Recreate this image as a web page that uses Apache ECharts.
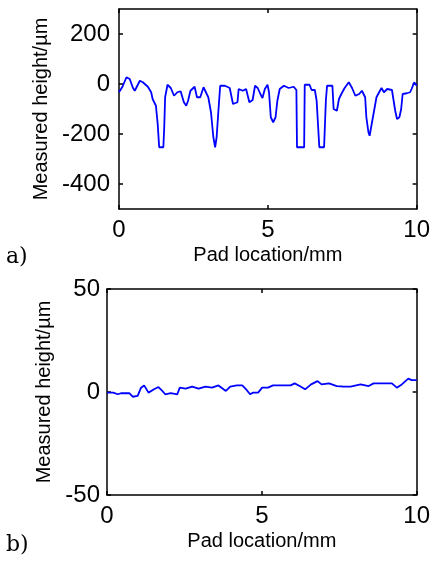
<!DOCTYPE html>
<html>
<head>
<meta charset="utf-8">
<script src="https://cdn.jsdelivr.net/npm/echarts@6/dist/echarts.min.js"></script>
<style>
html,body{margin:0;padding:0;background:#fff;}
#chart{width:433px;height:563px;}
</style>
</head>
<body>
<div id="chart"></div>
<script>
// Panel a) measured height profile
const xA = [0, 0.12, 0.25, 0.36, 0.47, 0.53, 0.7, 0.8, 0.97, 1.08, 1.13, 1.24, 1.3, 1.35, 1.49, 1.52, 1.55, 1.63, 1.74, 1.8, 1.85, 1.96, 2.07, 2.18, 2.26, 2.32, 2.4, 2.54, 2.62, 2.73, 2.84, 2.9, 3.0, 3.09, 3.17, 3.23, 3.28, 3.34, 3.4, 3.56, 3.72, 3.83, 3.98, 4.02, 4.16, 4.27, 4.38, 4.49, 4.57, 4.66, 4.75, 4.82, 4.9, 4.99, 5.04, 5.1, 5.18, 5.26, 5.32, 5.4, 5.54, 5.7, 5.87, 5.96, 5.98, 6.22, 6.24, 6.4, 6.47, 6.58, 6.64, 6.73, 6.89, 6.95, 6.99, 7.17, 7.21, 7.32, 7.39, 7.47, 7.58, 7.72, 7.83, 7.94, 8.07, 8.16, 8.27, 8.31, 8.38, 8.42, 8.49, 8.57, 8.65, 8.74, 8.82, 8.9, 9.01, 9.17, 9.28, 9.34, 9.42, 9.48, 9.53, 9.67, 9.78, 9.83, 9.92, 10.0];
const yA = [-33, -10, 27, 20, -16, -27, 13, 7, -11, -33, -60, -87, -160, -253, -253, -173, -53, -3, -16, -24, -47, -33, -29, -73, -87, -67, -27, -11, -53, -53, -13, -11, -53, -113, -213, -253, -213, -107, -7, -7, -16, -80, -73, -20, -27, -20, -73, -64, -7, -16, -40, -56, -20, -3, -33, -133, -153, -133, -67, -20, -7, -16, -11, -24, -253, -253, -3, -3, -24, -24, -67, -253, -253, -67, -7, -7, -100, -107, -60, -40, -16, 7, -16, -47, -40, -27, -53, -133, -193, -207, -160, -107, -53, -33, -16, -33, -20, -24, -107, -140, -133, -100, -40, -37, -33, -20, 7, -7];

// Panel b) measured height profile
const xB = [0, 0.2, 0.35, 0.45, 0.72, 0.83, 0.99, 1.1, 1.2, 1.34, 1.52, 1.66, 1.77, 1.88, 2.06, 2.27, 2.35, 2.54, 2.75, 2.96, 3.18, 3.39, 3.6, 3.84, 3.98, 4.19, 4.37, 4.51, 4.62, 4.72, 4.88, 5.01, 5.2, 5.36, 5.93, 6.06, 6.22, 6.4, 6.59, 6.8, 6.93, 7.17, 7.42, 7.65, 7.87, 8.19, 8.45, 8.61, 9.2, 9.36, 9.52, 9.73, 9.84, 10.0];
const yB = [-0.3, -0.3, -1.1, -0.6, -0.6, -2.3, -1.9, 2.1, 3.2, -0.3, 1.3, 2.4, 0.8, -1.1, -0.6, -1.1, 2.1, 1.6, 2.6, 1.6, 2.6, 2.1, 3.2, 0.5, 2.6, 3.2, 3.2, 1.0, -1.1, -0.3, -0.3, 2.1, 2.1, 3.2, 3.2, 4.2, 2.9, 1.3, 3.7, 5.3, 3.7, 4.2, 2.9, 2.6, 2.6, 3.7, 2.9, 4.2, 4.2, 2.1, 3.7, 6.5, 5.8, 5.8];

const xTicks = [0, 5, 10];
const yTicksA = [-400, -200, 0, 200];
const yTicksB = [-50, 0, 50];
const xTitle = 'Pad location/mm';
const yTitle = 'Measured height/µm';
const panelLabels = ['a)', 'b)'];

const FONT = 'Liberation Sans, Arial, sans-serif';
const frame = {show: true, onZero: false, lineStyle: {color: '#000', width: 1.5}};
function tickIn(vals) {
  return {show: true, inside: true, length: 4, customValues: vals, lineStyle: {color: '#000', width: 1.5}};
}

function xMain(grid, margin) {
  return {type: 'value', gridIndex: grid, min: 0, max: 10, position: 'bottom',
    axisLine: frame, axisTick: tickIn(xTicks), splitLine: {show: false},
    axisLabel: {color: '#000', fontSize: 24, fontFamily: FONT, margin: margin, customValues: xTicks},
    name: xTitle, nameLocation: 'middle', nameGap: 36,
    nameTextStyle: {color: '#000', fontSize: 20, fontFamily: FONT}};
}
function xTop(grid) {
  return {type: 'value', gridIndex: grid, min: 0, max: 10, position: 'top',
    axisLine: frame, axisTick: tickIn(xTicks), axisLabel: {show: false}, splitLine: {show: false}};
}
function yMain(grid, min, max, ticks, margin, gap) {
  return {type: 'value', gridIndex: grid, min: min, max: max, position: 'left',
    axisLine: frame, axisTick: tickIn(ticks), splitLine: {show: false},
    axisLabel: {color: '#000', fontSize: 24, fontFamily: FONT, margin: margin, customValues: ticks},
    name: yTitle, nameLocation: 'middle', nameGap: gap,
    nameTextStyle: {color: '#000', fontSize: 20, fontFamily: FONT}};
}
function yRight(grid, min, max, ticks) {
  return {type: 'value', gridIndex: grid, min: min, max: max, position: 'right',
    axisLine: frame, axisTick: tickIn(ticks), axisLabel: {show: false}, splitLine: {show: false}};
}

const chart = echarts.init(document.getElementById('chart'), null, {renderer: 'canvas'});
chart.setOption({
  backgroundColor: '#fff',
  animation: false,
  grid: [
    {left: 119, top: 9, width: 303, height: 200},
    {left: 107, top: 289, width: 313, height: 206}
  ],
  xAxis: [xMain(0, 9), xTop(0), xMain(1, 9), xTop(1)],
  yAxis: [
    yMain(0, -500, 300, yTicksA, 9, 66), yRight(0, -500, 300, yTicksA),
    yMain(1, -50, 50, yTicksB, 7, 51), yRight(1, -50, 50, yTicksB)
  ],
  series: [
    {type: 'line', xAxisIndex: 0, yAxisIndex: 0, data: xA.map((x, i) => [x, yA[i]]),
      showSymbol: false, lineStyle: {color: '#0000ff', width: 1.8}},
    {type: 'line', xAxisIndex: 2, yAxisIndex: 2, data: xB.map((x, i) => [x, yB[i]]),
      showSymbol: false, lineStyle: {color: '#0000ff', width: 1.8}}
  ],
  graphic: [
    {type: 'text', left: 6, top: 246, style: {text: panelLabels[0], fontSize: 22, fontFamily: 'DejaVu Serif, serif', fill: '#000'}},
    {type: 'text', left: 6, top: 534, style: {text: panelLabels[1], fontSize: 22, fontFamily: 'DejaVu Serif, serif', fill: '#000'}}
  ]
});
</script>
</body>
</html>
